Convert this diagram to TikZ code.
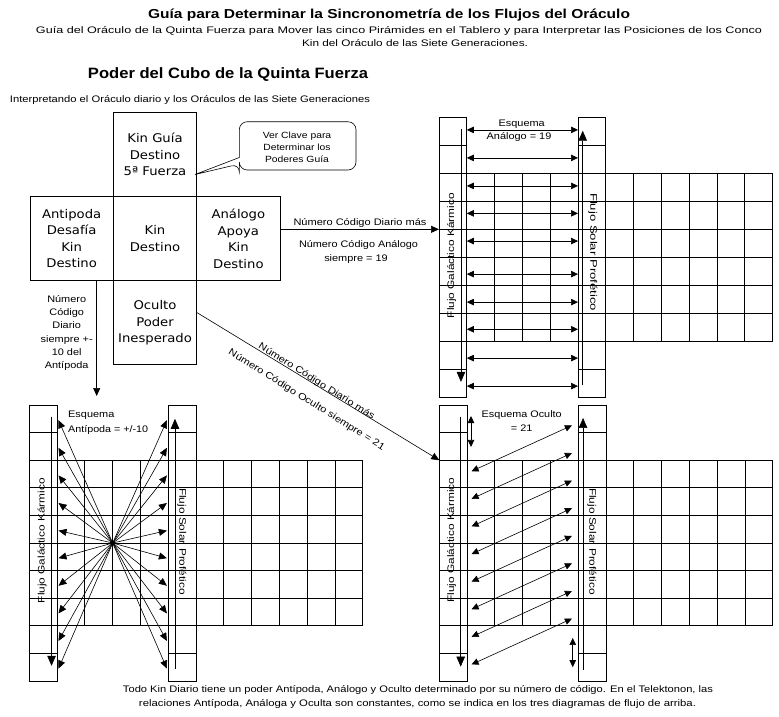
\documentclass[tikz,border=0pt]{standalone}
\usepackage{fontspec}
\usepackage{graphicx}
\setmainfont[FakeStretch=1.15]{Liberation Sans}
\newfontfamily\bxf[FakeStretch=1.1]{DejaVu Sans}
\usetikzlibrary{arrows.meta,calc}
\newcommand\fw[2]{\resizebox{#1pt}{\height}{#2}}
\newcommand\telgrid{%
 \foreach \r in {2,...,8} \draw[gl] (0,\r) -- (12,\r);
 \foreach \c in {0,...,12} \draw[gl] (\c,2) -- (\c,8);
 \foreach \r in {0,1,9,10} {\draw[gl] (0,\r) -- (1,\r); \draw[gl] (5,\r) -- (6,\r);}
 \foreach \c in {0,1,5,6} \draw[gl] (\c,0) -- (\c,10);
}
\begin{document}
\begin{tikzpicture}[x=1pt,y=-1pt,
  cube/.style={draw,line width=0.9pt,minimum width=83.4pt,minimum height=84pt,inner sep=0pt,align=center,font=\bxf\fontsize{12}{16.5}\selectfont},
  sm/.style={inner sep=0pt,font=\fontsize{9.5}{12}\selectfont},
  gl/.style={line width=0.9pt,line cap=rect},
  al/.style={line width=0.6pt},
  arr/.style={-{Triangle[length=8pt,width=7pt]}},
  darr/.style={{Triangle[length=7pt,width=6.5pt]}-{Triangle[length=7pt,width=6.5pt]}},
  flowarr/.style={-{Triangle[length=10pt,width=8.5pt]}},
]
\useasboundingbox (0,0) rectangle (779,716);

% titles
\node[inner sep=0pt,font=\fontsize{13}{15}\selectfont\bfseries] (title) at (389,15) {\fw{482}{Guía para Determinar la Sincronometría de los Flujos del Oráculo}};
\node[sm] (sub1) at (399,31) {\fw{726}{Guía del Oráculo de la Quinta Fuerza para Mover las cinco Pirámides en el Tablero y para Interpretar las Posiciones de los Conco}};
\node[sm] (sub2) at (415,43) {\fw{226}{Kin del Oráculo de las Siete Generaciones.}};
\node[inner sep=0pt,font=\fontsize{15}{17}\selectfont\bfseries] (poder) at (228,75) {\fw{280}{Poder del Cubo de la Quinta Fuerza}};
\node[sm] (interp) at (190,100) {\fw{360}{Interpretando el Oráculo diario y los Oráculos de las Siete Generaciones}};
\node[sm] (bot1) at (418,690) {\fw{590}{Todo Kin Diario tiene un poder Antípoda, Análogo y Oculto determinado por su número de código. En el Telektonon, las}};
\node[sm] (bot2) at (417.5,704) {\fw{557}{relaciones Antípoda, Análoga y Oculta son constantes, como se indica en los tres diagramas de flujo de arriba.}};

% cube
\node[cube] (top) at (155,154.7) {Kin Guía\\Destino\\5ª Fuerza};
\node[cube] (left) at (71.65,238.7) {Antipoda\\Desafía\\Kin\\Destino};
\node[cube] (center) at (155,238.7) {Kin\\Destino};
\node[cube] (right) at (238.35,238.7) {Análogo\\Apoya\\Kin\\Destino};
\node[cube] (bottom) at (155,322.7) {Oculto\\Poder\\Inesperado};

% callout
\draw[line width=0.6pt] (195,174.5) -- (239.3,157.5) [rounded corners=8pt] -- (239.3,121.7) -- (356,121.7) -- (356,170) -- (239.3,170) -- (239.3,164) [sharp corners] -- (195,174.5);
\node[sm,align=center,font=\fontsize{9}{11.8}\selectfont] (callout) at (297,147.5) {Ver Clave para\\Determinar los\\Poderes Guía};

% grids
\begin{scope}[shift={(439,117.3)},x=27.8pt,y=-28pt]
 \telgrid
 \coordinate (trIn) at (0,4);
 \draw[al,flowarr] (0.79,0.42) -- (0.79,9.45);
 \draw[al,flowarr] (5.17,9.55) -- (5.17,0.48);
 \foreach \yy in {0.45,1.45,2.45,3.43,4.42,5.6,6.6,7.57,8.6,9.6} \draw[al,darr] (1,\yy) -- (5,\yy);
\end{scope}
\node[sm] (esqA1) at (521.7,124) {Esquema};
\node[sm] (esqA2) at (519,136.7) {Análogo = 19};
\node[sm,rotate=90] (fgA) at (451.7,255.7) {\fw{125}{Flujo Galáctico Kármico}};
\node[sm,rotate=-90] (fsA) at (593,252) {\fw{118}{Flujo Solar Profético}};

\begin{scope}[shift={(29.3,405)},x=27.8pt,y=-27.6pt]
 \telgrid
 \draw[al,flowarr] (0.8,0.42) -- (0.8,9.45);
 \draw[al,flowarr] (5.24,9.55) -- (5.24,0.5);
 \coordinate (hub) at (3,5);
 \foreach \r in {0,...,9} {\draw[al,arr] (hub) -- (1.05,\r+0.55); \draw[al,arr] (hub) -- (4.95,\r+0.55);}
 \fill (hub) circle (2.2pt);
\end{scope}
\node[sm,anchor=west] (esqP1) at (68,415) {Esquema};
\node[sm,anchor=west] (esqP2) at (68,430) {\fw{80}{Antípoda = +/-10}};
\node[sm,rotate=90] (fgP) at (42,540.7) {\fw{125}{Flujo Galáctico Kármico}};
\node[sm,rotate=-90] (fsP) at (182,541.5) {\fw{107}{Flujo Solar Profético}};

\begin{scope}[shift={(439.3,405)},x=27.8pt,y=-27.6pt]
 \telgrid
 \coordinate (brIn) at (0,2);
 \draw[al,flowarr] (0.77,0.42) -- (0.77,9.48);
 \draw[al,flowarr] (5.17,9.6) -- (5.17,0.47);
 \draw[al,darr] (1.14,0.4) -- (1.14,1.52);
 \draw[al,darr] (4.8,8.44) -- (4.8,9.5);
 \foreach \r in {0,...,7} \draw[al,darr] (4.77,\r+0.74) -- (1.16,\r+2.4);
\end{scope}
\node[sm] (esqO1) at (521.7,415) {\fw{80}{Esquema Oculto}};
\node[sm] (esqO2) at (521.7,428.3) {= 21};
\node[sm,rotate=90] (fgO) at (451.7,540) {\fw{125}{Flujo Galáctico Kármico}};
\node[sm,rotate=-90] (fsO) at (592,541.5) {\fw{107}{Flujo Solar Profético}};

% connectors from cube
\draw[al,arr] (right.east |- trIn) -- (trIn);
\node[sm] (lblA1) at (360,223) {\fw{133}{Número Código Diario más}};
\node[sm] (lblA2) at (358.5,245) {\fw{119}{Número Código Análogo}};
\node[sm] (lblA3) at (356,259) {siempre = 19};

\coordinate (blIn) at (96.7,396);
\draw[al,arr] (left.south -| blIn) -- (blIn);
\node[sm,align=center,font=\fontsize{9.5}{13.2}\selectfont] (lblP) at (66.7,333) {Número\\Código\\Diario\\siempre +-\\10 del\\Antípoda};

\draw[al,arr] ($(bottom.east)+(0,-10)$) -- (brIn);
\node[sm,rotate=-32] (lblO1) at (316.5,381.5) {\fw{135}{Número Código Diario más}};
\node[sm,rotate=-32] (lblO2) at (306.5,400) {\fw{182}{Número Código Oculto siempre = 21}};
\end{tikzpicture}
\end{document}
